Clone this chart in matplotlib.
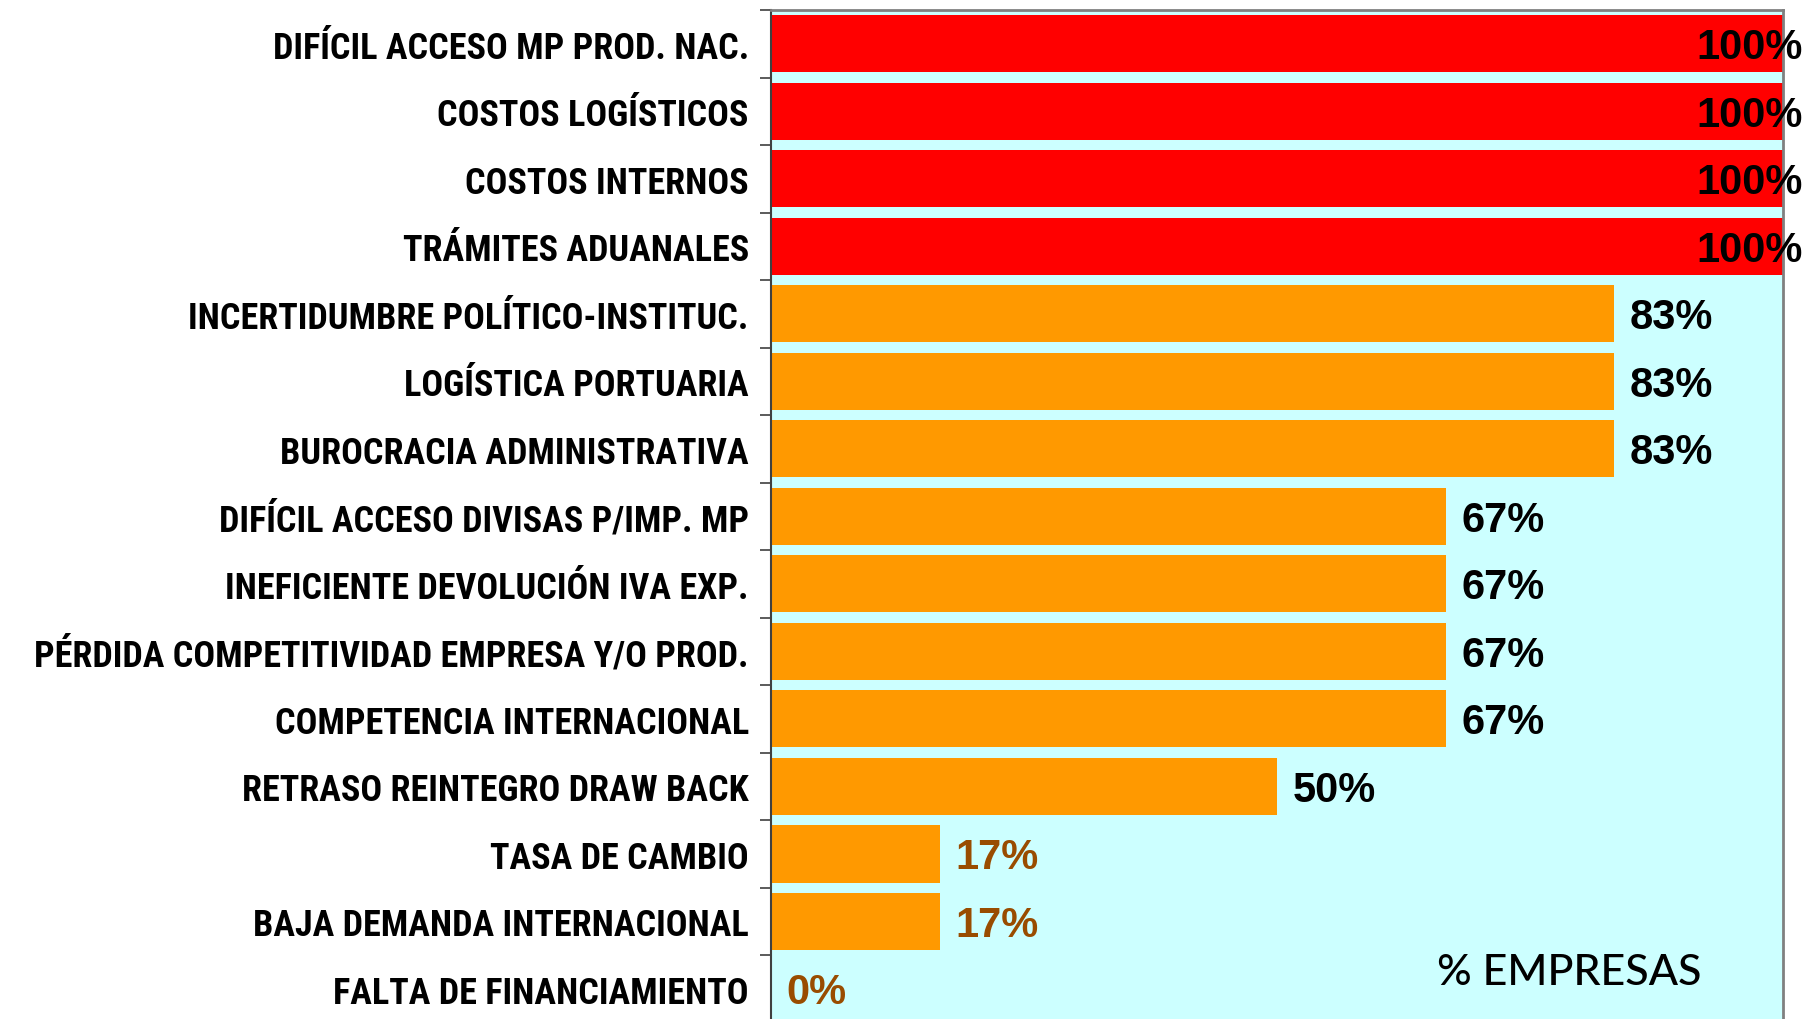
import matplotlib
matplotlib.use("Agg")
import matplotlib.pyplot as plt
import numpy as np

categories = [
    "DIFÍCIL ACCESO MP PROD. NAC.",
    "COSTOS LOGÍSTICOS",
    "COSTOS INTERNOS",
    "TRÁMITES ADUANALES",
    "INCERTIDUMBRE POLÍTICO-INSTITUC.",
    "LOGÍSTICA PORTUARIA",
    "BUROCRACIA ADMINISTRATIVA",
    "DIFÍCIL ACCESO DIVISAS P/IMP. MP",
    "INEFICIENTE DEVOLUCIÓN IVA EXP.",
    "PÉRDIDA COMPETITIVIDAD EMPRESA Y/O PROD.",
    "COMPETENCIA INTERNACIONAL",
    "RETRASO REINTEGRO DRAW BACK",
    "TASA DE CAMBIO",
    "BAJA DEMANDA INTERNACIONAL",
    "FALTA DE FINANCIAMIENTO",
]
values = [100, 100, 100, 100, 83.3, 83.3, 83.3, 66.7, 66.7, 66.7, 66.7, 50, 16.7, 16.7, 0]

RED = "#FF0000"
ORANGE = "#FF9900"
BG = "#CCFFFF"
BROWN = "#994C00"

fig = plt.figure(figsize=(18.06, 10.2), dpi=100)
ax = fig.add_axes([0.4269, -0.0035, 0.5604, 0.9927])
ax.set_facecolor(BG)

y = np.arange(len(categories))
colors = [RED if v >= 100 else ORANGE for v in values]
ax.barh(y, values, height=0.85, color=colors, zorder=2)

ax.set_xlim(0, 100)
ax.set_ylim(len(categories) - 0.5, -0.5)

# value labels (the 100% ones get pushed back inside the figure, like Excel does)
for yi, v in zip(y, values):
    txt = f"{v:.0f}%"
    col = BROWN if v < 20 else "black"
    if v >= 100:
        ax.annotate(txt, (v, yi), xytext=(14, -2.5), textcoords="offset points",
                    ha="right", va="center", fontsize=30, fontweight="bold",
                    family="Liberation Sans", color=col, annotation_clip=False)
    else:
        ax.annotate(txt, (v, yi), xytext=(11, -2.5), textcoords="offset points",
                    ha="left", va="center", fontsize=30, fontweight="bold",
                    family="Liberation Sans", color=col)

# category labels, tick marks sit between categories
ax.set_yticks(y)
ax.set_yticklabels(categories, fontsize=26, fontweight="bold",
                   family=["Roboto Condensed", "DejaVu Sans"])
ax.tick_params(axis="y", which="major", length=0, pad=16)
ax.set_yticks(np.arange(-0.5, len(categories)), minor=True)
ax.tick_params(axis="y", which="minor", length=8, width=1.2, color="#404040")
ax.set_xticks([])

for side in ["top", "right"]:
    ax.spines[side].set_color("#808080")
    ax.spines[side].set_linewidth(2)
ax.spines["left"].set_color("#404040")
ax.spines["left"].set_linewidth(1.5)
ax.spines["bottom"].set_visible(False)

ax.text(0.789, 0.05, "% EMPRESAS", transform=ax.transAxes, ha="center",
        va="center", fontsize=31, family="Lato", fontweight="medium",
        color="black")

fig.savefig("out.png", dpi=100)
